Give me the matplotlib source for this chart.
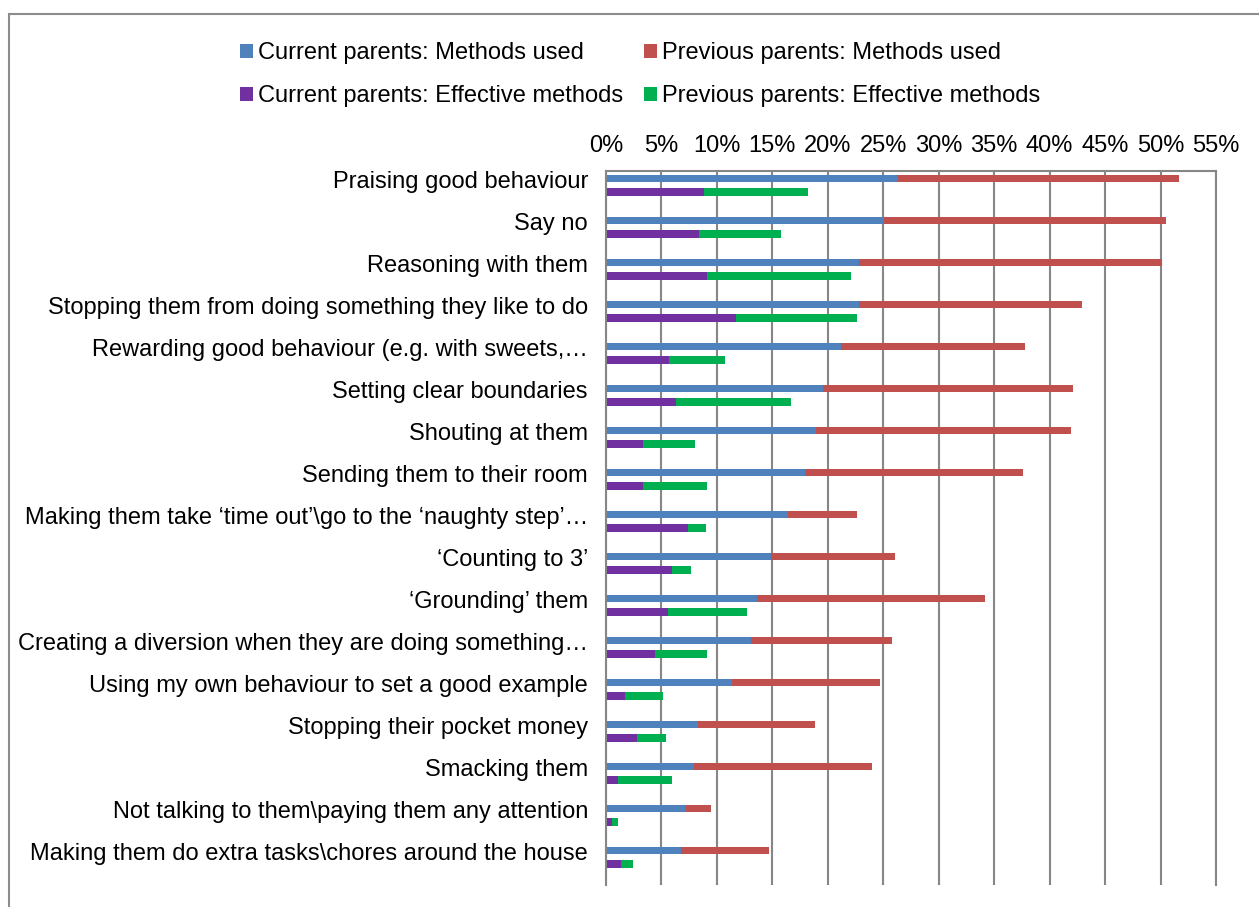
import numpy as np
import matplotlib
matplotlib.use("Agg")
import matplotlib.pyplot as plt
from matplotlib.patches import Rectangle
from matplotlib.ticker import FuncFormatter

plt.rcParams['font.family'] = ['Liberation Sans', 'DejaVu Sans']

methods = [
    "Praising good behaviour",
    "Say no",
    "Reasoning with them",
    "Stopping them from doing something they like to do",
    "Rewarding good behaviour (e.g. with sweets,\u2026",
    "Setting clear boundaries",
    "Shouting at them",
    "Sending them to their room",
    "Making them take \u2018time out\u2019\\go to the \u2018naughty step\u2019\u2026",
    "\u2018Counting to 3\u2019",
    "\u2018Grounding\u2019 them",
    "Creating a diversion when they are doing something\u2026",
    "Using my own behaviour to set a good example",
    "Stopping their pocket money",
    "Smacking them",
    "Not talking to them\\paying them any attention",
    "Making them do extra tasks\\chores around the house",
]

# percentages, stacked: current first, previous on top of it
current_used = [26.3, 25.1, 22.8, 22.8, 21.2, 19.6, 18.9, 17.9, 16.4, 14.9,
                13.65, 13.1, 11.4, 8.3, 7.9, 7.2, 6.8]
previous_used = [25.4, 25.4, 27.3, 20.1, 16.6, 22.5, 23.0, 19.7, 6.2, 11.2,
                 20.55, 12.7, 13.35, 10.5, 16.1, 2.3, 7.9]
current_effective = [8.8, 8.4, 9.1, 11.7, 5.7, 6.3, 3.3, 3.3, 7.4, 5.95,
                     5.6, 4.4, 1.75, 2.8, 1.07, 0.57, 1.37]
previous_effective = [9.4, 7.35, 13.0, 10.9, 5.0, 10.4, 4.7, 5.85, 1.6, 1.75,
                      7.1, 4.75, 3.35, 2.65, 4.9, 0.5, 1.1]

x_ticks = list(range(0, 56, 5))

W, H = 1259, 907
fig = plt.figure(figsize=(W / 100, H / 100), dpi=100)
ax = fig.add_axes([606 / W, 1 - 885 / H, (1216 - 606) / W, (885 - 171) / H])

pos = np.arange(len(methods))
bh = 0.17
y_used = pos + 0.175
y_eff = pos + 0.5

b1 = ax.barh(y_used, current_used, height=bh, color='#4F81BD')
b2 = ax.barh(y_used, previous_used, left=current_used, height=bh, color='#C0504D')
b3 = ax.barh(y_eff, current_effective, height=bh, color='#7030A0')
b4 = ax.barh(y_eff, previous_effective, left=current_effective, height=bh, color='#00B050')

ax.set_ylim(len(methods), 0)
ax.set_xlim(0, 55)
ax.set_yticks(pos + 0.2)
ax.set_yticklabels(methods, fontsize=17)
ax.xaxis.tick_top()
ax.set_xticks(x_ticks)
ax.xaxis.set_major_formatter(FuncFormatter(lambda v, p: f"{v:.0f}%"))
ax.tick_params(axis='x', length=0, pad=10, labelsize=17)
ax.tick_params(axis='y', length=0, pad=13)
ax.xaxis.grid(True, color='#868686', lw=1.5)
ax.set_axisbelow(True)
for s in ['left', 'top', 'right']:
    ax.spines[s].set_color('#868686')
    ax.spines[s].set_linewidth(1.5)
ax.spines['bottom'].set_visible(False)

fig.legend([b1, b3, b2, b4],
           ["Current parents: Methods used", "Current parents: Effective methods",
            "Previous parents: Methods used", "Previous parents: Effective methods"],
           ncol=2, loc='upper left', bbox_to_anchor=(240 / W, 1 - 42 / H),
           frameon=False, fontsize=17, borderpad=0, borderaxespad=0,
           handlelength=0.55, handleheight=0.55, handletextpad=0.2,
           labelspacing=0.9, columnspacing=0.9)

fig.add_artist(Rectangle((9 / W, -0.1), 2, 1.1 - 14 / H, transform=fig.transFigure,
                         fill=False, edgecolor='#8c8c8c', lw=1.5))

fig.savefig("out.png", dpi=100)
